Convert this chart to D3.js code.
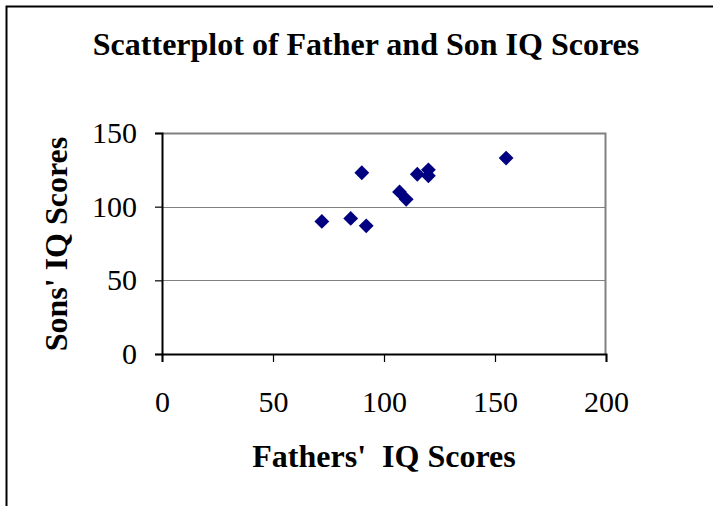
<!DOCTYPE html>
<html>
<head>
<meta charset="utf-8">
<script src="https://cdn.jsdelivr.net/npm/d3@7"></script>
<style>
  body { margin: 0; background: #fff; }
  svg { display: block; font-family: "Liberation Serif", "Times New Roman", serif; }
</style>
</head>
<body>
<div id="chart"></div>
<script>
// father / son IQ pairs
const fatherIQ = [72, 85, 92, 90, 107, 110, 115, 120, 120, 155];
const sonIQ    = [90, 92, 87, 123, 110, 105, 122, 125, 121, 133];
const xTicks = [0, 50, 100, 150, 200];
const yTicks = [0, 50, 100, 150];

const data = fatherIQ.map((f, i) => ({ father: f, son: sonIQ[i] }));

const W = 713, H = 506;
const margin = { top: 133, right: 107, bottom: 152, left: 162 },
      width = W - margin.left - margin.right,
      height = H - margin.top - margin.bottom;

const root = d3.select("#chart").append("svg")
  .attr("width", W)
  .attr("height", H);

// outer chart border (runs off the right and bottom edges)
root.append("rect")
  .attr("x", 6.5)
  .attr("y", 6.5)
  .attr("width", W + 20)
  .attr("height", H + 20)
  .attr("fill", "none")
  .attr("stroke", "#000")
  .attr("stroke-width", 2);

const svg = root.append("g")
  .attr("transform", `translate(${margin.left},${margin.top})`);

const x = d3.scaleLinear().domain([0, 200]).range([0, width]);
const y = d3.scaleLinear().domain([0, 150]).range([height, 0]);

// gridlines
svg.append("g")
  .selectAll("line")
  .data(yTicks.filter(t => t > 0 && t < 150))
  .enter().append("line")
  .attr("x1", 0)
  .attr("x2", width)
  .attr("y1", d => Math.round(y(d)) + 0.5)
  .attr("y2", d => Math.round(y(d)) + 0.5)
  .attr("stroke", "#808080")
  .attr("stroke-width", 1);

// plot area top + right edge
svg.append("path")
  .attr("d", `M0,0.5H${width - 0.5}V${height}`)
  .attr("fill", "none")
  .attr("stroke", "#808080")
  .attr("stroke-width", 2);

// X axis
const xAxis = svg.append("g")
  .attr("transform", `translate(0,${height})`)
  .call(d3.axisBottom(x).tickValues(xTicks).tickSize(8).tickPadding(29));
xAxis.select(".domain").attr("stroke-width", 2);
xAxis.selectAll(".tick line").attr("stroke-width", 1.2);
xAxis.selectAll("text")
  .attr("font-size", 30)
  .attr("font-family", "Liberation Serif, serif");

// Y axis
const yAxis = svg.append("g")
  .call(d3.axisLeft(y).tickValues(yTicks).tickSize(7).tickPadding(18));
yAxis.select(".domain").attr("stroke-width", 2);
yAxis.selectAll(".tick line").attr("stroke-width", 1.2);
yAxis.selectAll("text")
  .attr("font-size", 30)
  .attr("font-family", "Liberation Serif, serif");

// points
const diamond = d3.symbol().type(d3.symbolSquare).size(110);
svg.selectAll(".pt")
  .data(data)
  .enter().append("path")
  .attr("class", "pt")
  .attr("d", diamond)
  .attr("transform", d => `translate(${x(d.father)},${y(d.son)}) rotate(45)`)
  .attr("fill", "#000080");

// title
root.append("text")
  .attr("x", 366)
  .attr("y", 55)
  .attr("text-anchor", "middle")
  .attr("font-size", 32)
  .attr("font-weight", "bold")
  .text("Scatterplot of Father and Son IQ Scores");

// axis titles
root.append("text")
  .attr("x", 384)
  .attr("y", 467)
  .attr("text-anchor", "middle")
  .attr("font-size", 32)
  .attr("font-weight", "bold")
  .attr("xml:space", "preserve")
  .style("white-space", "pre")
  .text("Fathers'  IQ Scores");

root.append("text")
  .attr("transform", "translate(67,244) rotate(-90)")
  .attr("text-anchor", "middle")
  .attr("font-size", 32)
  .attr("font-weight", "bold")
  .text("Sons' IQ Scores");
</script>
</body>
</html>
